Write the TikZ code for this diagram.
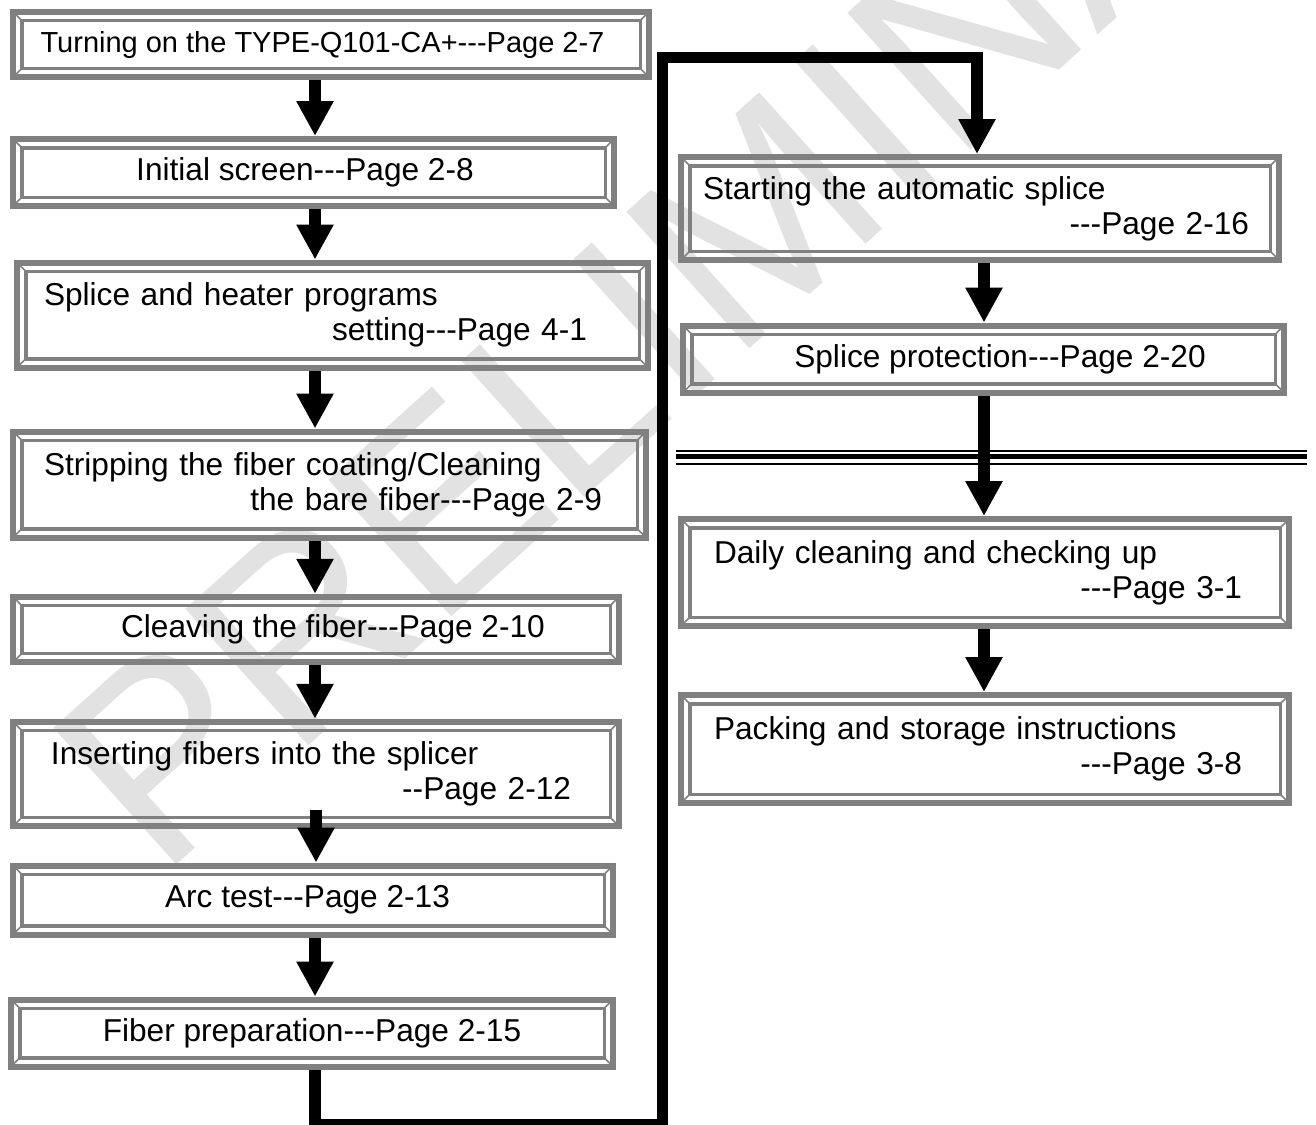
\documentclass[tikz,border=0pt]{standalone}
\usepackage{fontspec}
\newfontfamily\boxfont{Liberation Sans}
\usetikzlibrary{arrows.meta}
\definecolor{framegray}{RGB}{128,128,128}
\definecolor{markgray}{RGB}{226,226,226}
\newcommand{\pushright}{\hspace*{0pt plus 1filll}}
\newcommand{\rightgap}[1]{\hspace*{#1}\mbox{}}

\begin{document}
\begin{tikzpicture}[
    stepbox/.style={draw=framegray, line width=0.12cm, outer sep=0.06cm,
      inner xsep=0pt, inner ysep=2pt, font=\boxfont\fontsize{18}{20}\selectfont},
    twoline/.style={align=left, text width=#1},
    flowarrow/.style={line width=0.23cm, line join=miter,
      -{Triangle[length=0.7cm,width=0.7cm]}},
    watermark/.style={text=markgray, inner sep=0pt, anchor=base west, rotate=42,
      font=\boxfont\fontsize{152}{152}\selectfont}
  ]
  \useasboundingbox (0,0) rectangle (26.32,-22.48);

  \node[watermark] (wmark) at (3.2,-17.6) {PRELIMINARY};

  \node[stepbox, minimum width=12.72cm, minimum height=1.31cm,
    font=\boxfont\fontsize{16.5}{20}\selectfont] (turnon) at (6.62,-0.89)
    {Turning on the TYPE-Q101-CA+---Page 2-7\hspace*{0.34cm}};
  \node[stepbox, minimum width=12.02cm, minimum height=1.34cm] (initial) at (6.27,-3.45)
    {Initial screen---Page 2-8\hspace*{0.34cm}};
  \node[stepbox, twoline=12.62cm, minimum height=2.10cm] (programs) at (6.65,-6.30)
    {\hspace*{0.54cm}Splice and heater programs\\ \pushright setting---Page 4-1\rightgap{1.22cm}};
  \node[stepbox, twoline=12.66cm, minimum height=2.12cm] (strip) at (6.59,-9.69)
    {\hspace*{0.62cm}Stripping the fiber coating/Cleaning\\ \pushright the bare fiber---Page 2-9\rightgap{0.88cm}};
  \node[stepbox, minimum width=12.12cm, minimum height=1.31cm] (cleave) at (6.32,-12.59)
    {\hspace*{0.68cm}Cleaving the fiber---Page 2-10};
  \node[stepbox, twoline=12.12cm, minimum height=2.09cm] (insert) at (6.32,-15.48)
    {\hspace*{0.76cm}Inserting fibers into the splicer\\ \pushright --Page 2-12\rightgap{0.96cm}};
  \node[stepbox, minimum width=12.00cm, minimum height=1.38cm] (arctest) at (6.26,-18.00)
    {Arc test---Page 2-13\hspace*{0.22cm}};
  \node[stepbox, minimum width=12.04cm, minimum height=1.34cm] (fiberprep) at (6.24,-20.66)
    {Fiber preparation---Page 2-15};

  \node[stepbox, twoline=11.96cm, minimum height=2.06cm] (autosplice) at (19.60,-4.17)
    {\hspace*{0.44cm}Starting the automatic splice\\ \pushright ---Page 2-16\rightgap{0.60cm}};
  \node[stepbox, minimum width=12.02cm, minimum height=1.34cm] (protect) at (19.67,-7.18)
    {\hspace*{0.66cm}Splice protection---Page 2-20};
  \node[stepbox, twoline=12.16cm, minimum height=2.14cm] (cleaning) at (19.70,-11.45)
    {\hspace*{0.66cm}Daily cleaning and checking up\\ \pushright ---Page 3-1\rightgap{0.94cm}};
  \node[stepbox, twoline=12.16cm, minimum height=2.16cm] (packing) at (19.70,-14.98)
    {\hspace*{0.66cm}Packing and storage instructions\\ \pushright ---Page 3-8\rightgap{0.94cm}};

  % inner frame and bevelled corners
  \foreach \n in {turnon,initial,programs,strip,cleave,insert,arctest,fiberprep,
                  autosplice,protect,cleaning,packing} {
    \draw[framegray, line width=0.07cm]
      ([shift={(0.235,-0.235)}]\n.north west) rectangle ([shift={(-0.235,0.235)}]\n.south east);
    \foreach \a/\sx/\sy in {north west/1/-1, north east/-1/-1, south west/1/1, south east/-1/1}
      \draw[framegray, line width=0.03cm]
        ([shift={(\sx*0.06,\sy*0.06)}]\n.\a) -- ([shift={(\sx*0.235,\sy*0.235)}]\n.\a);
  }

  \draw[line width=0.04cm] (13.52,-9.01) -- (26.14,-9.01);
  \draw[line width=0.10cm] (13.52,-9.12) -- (26.14,-9.12);
  \draw[line width=0.045cm] (13.52,-9.28) -- (26.14,-9.28);

  \coordinate (leftlane) at (6.30,0);
  \coordinate (rightlane) at (19.68,0);
  \coordinate (toplane) at (19.54,0);
  \coordinate (loopbottom) at (13.25,-22.49);
  \coordinate (looptop) at (13.25,-1.15);

  \draw[flowarrow] (turnon.south -| leftlane) -- (initial.north -| leftlane);
  \draw[flowarrow] (initial.south -| leftlane) -- (programs.north -| leftlane);
  \draw[flowarrow] (programs.south -| leftlane) -- (strip.north -| leftlane);
  \draw[flowarrow] (strip.south -| leftlane) -- (cleave.north -| leftlane);
  \draw[flowarrow] (cleave.south -| leftlane) -- (insert.north -| leftlane);
  \draw[flowarrow] ([yshift=0.38cm]insert.south) -- (arctest.north -| insert.south);
  \draw[flowarrow] (arctest.south -| leftlane) -- (fiberprep.north -| leftlane);
  \draw[flowarrow] (fiberprep.south -| leftlane) |- (loopbottom) -- (looptop)
    -| (autosplice.north -| toplane);
  \draw[flowarrow] (autosplice.south -| rightlane) -- (protect.north -| rightlane);
  \draw[flowarrow] (protect.south -| rightlane) -- (cleaning.north -| rightlane);
  \draw[flowarrow] (cleaning.south -| rightlane) -- (packing.north -| rightlane);
\end{tikzpicture}
\end{document}
